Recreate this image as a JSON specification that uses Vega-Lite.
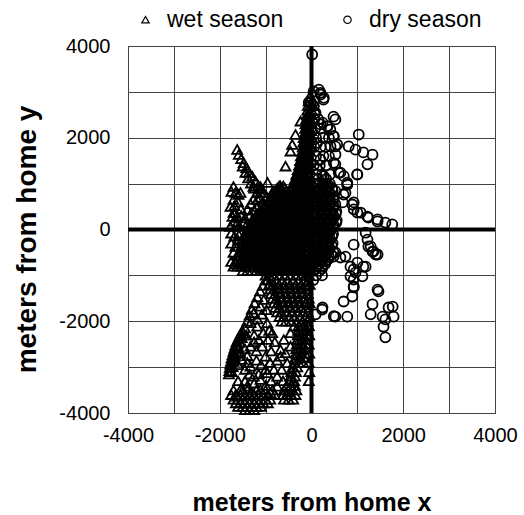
{
"$schema": "https://vega.github.io/schema/vega-lite/v6.json",
"width": 367, "height": 367,
"autosize": {"type": "none"},
"padding": {"left": 128, "top": 46, "right": 29, "bottom": 102},
"background": "#ffffff",
"config": {"view": {"stroke": "#000", "strokeWidth": 1}, "font": "Liberation Sans"},
"data": {"format": {"type": "csv"}, "values": "x,y,s\n-1620,1744,w\n-1585,1635,w\n-1533,1541,w\n-1476,1454,w\n-1417,1345,w\n-1367,1236,w\n-1293,1162,w\n-1221,1053,w\n-1160,960,w\n-1100,880,w\n-1040,800,w\n-980,720,w\n-920,650,w\n-1500,1380,w\n-1440,1240,w\n-1380,1120,w\n-1320,1010,w\n-1250,900,w\n-1190,800,w\n-1120,700,w\n-1060,610,w\n-990,520,w\n-240,2361,w\n-349,2071,w\n-421,1853,w\n-458,1707,w\n-567,1380,w\n-131,1635,w\n-1744,828,w\n-1657,807,w\n-1591,763,w\n-1700,654,w\n-1766,501,w\n-1657,371,w\n-1722,283,w\n-1766,65,w\n-1591,65,w\n-1482,153,w\n-1700,937,w\n-1548,807,w\n-1700,371,w\n-1613,153,w\n-1680,520,w\n-1600,600,w\n-1540,450,w\n-1620,260,w\n-1700,180,w\n-1530,300,w\n-1750,-80,w\n-1680,-150,w\n-1600,-230,w\n-1750,-300,w\n-1660,-370,w\n-1580,-120,w\n-1520,-350,w\n-1700,-500,w\n-1620,-560,w\n-1264,937,w\n-1112,807,w\n-1264,654,w\n-1177,501,w\n-1395,436,w\n-1112,937,w\n-1177,654,w\n-1046,501,w\n-959,1025,w\n-1330,560,w\n-1250,420,w\n-1350,300,w\n-1300,200,w\n-1400,120,w\n-1220,300,w\n-1150,380,w\n-1080,260,w\n-1200,150,w\n-1450,250,w\n-1380,-50,w\n-1300,60,w\n-40,2900,w\n-60,2800,w\n40,2800,w\n-80,2700,w\n20,2700,w\n-90,2600,w\n0,2600,w\n90,2600,w\n-100,2500,w\n-10,2500,w\n-120,2400,w\n-30,2400,w\n60,2400,w\n-130,2300,w\n-40,2300,w\n-140,2200,w\n-50,2200,w\n40,2200,w\n-150,2100,w\n-60,2100,w\n-170,2000,w\n-80,2000,w\n10,2000,w\n-180,1900,w\n-90,1900,w\n-190,1800,w\n-100,1800,w\n-10,1800,w\n-210,1700,w\n-120,1700,w\n-30,1700,w\n-230,1600,w\n-140,1600,w\n-50,1600,w\n-250,1500,w\n-160,1500,w\n-70,1500,w\n-270,1400,w\n-180,1400,w\n-90,1400,w\n-300,1300,w\n-210,1300,w\n-120,1300,w\n-30,1300,w\n-330,1200,w\n-240,1200,w\n-150,1200,w\n-60,1200,w\n-360,1100,w\n-270,1100,w\n-180,1100,w\n-90,1100,w\n-400,1000,w\n-310,1000,w\n-220,1000,w\n-130,1000,w\n-40,1000,w\n-680,950,w\n-720,880,w\n-640,880,w\n-300,1020,w\n-750,900,w\n-660,900,w\n-580,900,w\n-440,900,w\n-350,900,w\n-260,900,w\n-170,900,w\n-80,900,w\n-860,800,w\n-770,800,w\n-680,800,w\n-590,800,w\n-500,800,w\n-410,800,w\n-320,800,w\n-230,800,w\n-140,800,w\n-50,800,w\n-900,700,w\n-810,700,w\n-720,700,w\n-630,700,w\n-540,700,w\n-450,700,w\n-360,700,w\n-270,700,w\n-180,700,w\n-90,700,w\n-950,600,w\n-860,600,w\n-770,600,w\n-680,600,w\n-590,600,w\n-500,600,w\n-410,600,w\n-320,600,w\n-230,600,w\n-140,600,w\n-50,600,w\n-1000,500,w\n-910,500,w\n-820,500,w\n-730,500,w\n-640,500,w\n-550,500,w\n-460,500,w\n-370,500,w\n-280,500,w\n-190,500,w\n-100,500,w\n-1080,400,w\n-990,400,w\n-900,400,w\n-810,400,w\n-720,400,w\n-630,400,w\n-540,400,w\n-450,400,w\n-360,400,w\n-270,400,w\n-180,400,w\n-90,400,w\n-1120,300,w\n-1030,300,w\n-940,300,w\n-850,300,w\n-760,300,w\n-670,300,w\n-580,300,w\n-490,300,w\n-400,300,w\n-310,300,w\n-220,300,w\n-130,300,w\n-40,300,w\n-1250,200,w\n-1160,200,w\n-1070,200,w\n-980,200,w\n-890,200,w\n-800,200,w\n-710,200,w\n-620,200,w\n-530,200,w\n-440,200,w\n-350,200,w\n-260,200,w\n-170,200,w\n-80,200,w\n-1300,100,w\n-1210,100,w\n-1120,100,w\n-1030,100,w\n-940,100,w\n-850,100,w\n-760,100,w\n-670,100,w\n-580,100,w\n-490,100,w\n-400,100,w\n-310,100,w\n-220,100,w\n-130,100,w\n-40,100,w\n-1400,0,w\n-1310,0,w\n-1220,0,w\n-1130,0,w\n-1040,0,w\n-950,0,w\n-860,0,w\n-770,0,w\n-680,0,w\n-590,0,w\n-500,0,w\n-410,0,w\n-320,0,w\n-230,0,w\n-140,0,w\n-50,0,w\n-1450,-100,w\n-1360,-100,w\n-1270,-100,w\n-1180,-100,w\n-1090,-100,w\n-1000,-100,w\n-910,-100,w\n-820,-100,w\n-730,-100,w\n-640,-100,w\n-550,-100,w\n-460,-100,w\n-370,-100,w\n-280,-100,w\n-190,-100,w\n-100,-100,w\n-1500,-200,w\n-1410,-200,w\n-1320,-200,w\n-1230,-200,w\n-1140,-200,w\n-1050,-200,w\n-960,-200,w\n-870,-200,w\n-780,-200,w\n-690,-200,w\n-600,-200,w\n-510,-200,w\n-420,-200,w\n-330,-200,w\n-240,-200,w\n-150,-200,w\n-60,-200,w\n-1480,-300,w\n-1390,-300,w\n-1300,-300,w\n-1210,-300,w\n-1120,-300,w\n-1030,-300,w\n-940,-300,w\n-850,-300,w\n-760,-300,w\n-670,-300,w\n-580,-300,w\n-490,-300,w\n-400,-300,w\n-310,-300,w\n-220,-300,w\n-130,-300,w\n-1450,-400,w\n-1360,-400,w\n-1270,-400,w\n-1180,-400,w\n-1090,-400,w\n-1000,-400,w\n-910,-400,w\n-820,-400,w\n-730,-400,w\n-640,-400,w\n-550,-400,w\n-460,-400,w\n-370,-400,w\n-280,-400,w\n-190,-400,w\n-100,-400,w\n-1560,-500,w\n-1470,-500,w\n-1380,-500,w\n-1290,-500,w\n-1200,-500,w\n-1110,-500,w\n-1020,-500,w\n-930,-500,w\n-840,-500,w\n-750,-500,w\n-660,-500,w\n-570,-500,w\n-480,-500,w\n-390,-500,w\n-300,-500,w\n-210,-500,w\n-120,-500,w\n-1500,-600,w\n-1410,-600,w\n-1320,-600,w\n-1230,-600,w\n-1140,-600,w\n-1050,-600,w\n-960,-600,w\n-870,-600,w\n-780,-600,w\n-690,-600,w\n-600,-600,w\n-510,-600,w\n-420,-600,w\n-330,-600,w\n-240,-600,w\n-150,-600,w\n-60,-600,w\n-1750,-700,w\n-1660,-700,w\n-1570,-700,w\n-1480,-700,w\n-1390,-700,w\n-1300,-700,w\n-1210,-700,w\n-1120,-700,w\n-1030,-700,w\n-940,-700,w\n-850,-700,w\n-760,-700,w\n-670,-700,w\n-580,-700,w\n-490,-700,w\n-400,-700,w\n-310,-700,w\n-220,-700,w\n-130,-700,w\n-1700,-800,w\n-1610,-800,w\n-1520,-800,w\n-1430,-800,w\n-1340,-800,w\n-1250,-800,w\n-1160,-800,w\n-1100,-800,w\n-1010,-800,w\n-920,-800,w\n-830,-800,w\n-740,-800,w\n-650,-800,w\n-560,-800,w\n-470,-800,w\n-380,-800,w\n-290,-800,w\n-200,-800,w\n-110,-800,w\n-20,-800,w\n-1500,-900,w\n-1400,-900,w\n-1300,-900,w\n-1200,-900,w\n-1110,-900,w\n-1040,-900,w\n-950,-900,w\n-860,-900,w\n-770,-900,w\n-680,-900,w\n-590,-900,w\n-500,-900,w\n-410,-900,w\n-320,-900,w\n-230,-900,w\n-140,-900,w\n-50,-900,w\n-705,950,w\n-615,950,w\n-395,950,w\n-305,950,w\n-215,950,w\n-125,950,w\n-35,950,w\n-815,850,w\n-725,850,w\n-635,850,w\n-545,850,w\n-455,850,w\n-365,850,w\n-275,850,w\n-185,850,w\n-95,850,w\n-855,750,w\n-765,750,w\n-675,750,w\n-585,750,w\n-495,750,w\n-405,750,w\n-315,750,w\n-225,750,w\n-135,750,w\n-45,750,w\n-905,650,w\n-815,650,w\n-725,650,w\n-635,650,w\n-545,650,w\n-455,650,w\n-365,650,w\n-275,650,w\n-185,650,w\n-95,650,w\n-955,550,w\n-865,550,w\n-775,550,w\n-685,550,w\n-595,550,w\n-505,550,w\n-415,550,w\n-325,550,w\n-235,550,w\n-145,550,w\n-55,550,w\n-1035,450,w\n-945,450,w\n-855,450,w\n-765,450,w\n-675,450,w\n-585,450,w\n-495,450,w\n-405,450,w\n-315,450,w\n-225,450,w\n-135,450,w\n-45,450,w\n-1075,350,w\n-985,350,w\n-895,350,w\n-805,350,w\n-715,350,w\n-625,350,w\n-535,350,w\n-445,350,w\n-355,350,w\n-265,350,w\n-175,350,w\n-85,350,w\n-1205,250,w\n-1115,250,w\n-1025,250,w\n-935,250,w\n-845,250,w\n-755,250,w\n-665,250,w\n-575,250,w\n-485,250,w\n-395,250,w\n-305,250,w\n-215,250,w\n-125,250,w\n-35,250,w\n-1255,150,w\n-1165,150,w\n-1075,150,w\n-985,150,w\n-895,150,w\n-805,150,w\n-715,150,w\n-625,150,w\n-535,150,w\n-445,150,w\n-355,150,w\n-265,150,w\n-175,150,w\n-85,150,w\n-1355,50,w\n-1265,50,w\n-1175,50,w\n-1085,50,w\n-995,50,w\n-905,50,w\n-815,50,w\n-725,50,w\n-635,50,w\n-545,50,w\n-455,50,w\n-365,50,w\n-275,50,w\n-185,50,w\n-95,50,w\n-1405,-50,w\n-1315,-50,w\n-1225,-50,w\n-1135,-50,w\n-1045,-50,w\n-955,-50,w\n-865,-50,w\n-775,-50,w\n-685,-50,w\n-595,-50,w\n-505,-50,w\n-415,-50,w\n-325,-50,w\n-235,-50,w\n-145,-50,w\n-55,-50,w\n-1455,-150,w\n-1365,-150,w\n-1275,-150,w\n-1185,-150,w\n-1095,-150,w\n-1005,-150,w\n-915,-150,w\n-825,-150,w\n-735,-150,w\n-645,-150,w\n-555,-150,w\n-465,-150,w\n-375,-150,w\n-285,-150,w\n-195,-150,w\n-105,-150,w\n-1435,-250,w\n-1345,-250,w\n-1255,-250,w\n-1165,-250,w\n-1075,-250,w\n-985,-250,w\n-895,-250,w\n-805,-250,w\n-715,-250,w\n-625,-250,w\n-535,-250,w\n-445,-250,w\n-355,-250,w\n-265,-250,w\n-175,-250,w\n-85,-250,w\n-1405,-350,w\n-1315,-350,w\n-1225,-350,w\n-1135,-350,w\n-1045,-350,w\n-955,-350,w\n-865,-350,w\n-775,-350,w\n-685,-350,w\n-595,-350,w\n-505,-350,w\n-415,-350,w\n-325,-350,w\n-235,-350,w\n-145,-350,w\n-1515,-450,w\n-1425,-450,w\n-1335,-450,w\n-1245,-450,w\n-1155,-450,w\n-1065,-450,w\n-975,-450,w\n-885,-450,w\n-795,-450,w\n-705,-450,w\n-615,-450,w\n-525,-450,w\n-435,-450,w\n-345,-450,w\n-255,-450,w\n-165,-450,w\n-75,-450,w\n-1455,-550,w\n-1365,-550,w\n-1275,-550,w\n-1185,-550,w\n-1095,-550,w\n-1005,-550,w\n-915,-550,w\n-825,-550,w\n-735,-550,w\n-645,-550,w\n-555,-550,w\n-465,-550,w\n-375,-550,w\n-285,-550,w\n-195,-550,w\n-105,-550,w\n-1615,-650,w\n-1525,-650,w\n-1435,-650,w\n-1345,-650,w\n-1255,-650,w\n-1165,-650,w\n-1075,-650,w\n-985,-650,w\n-895,-650,w\n-805,-650,w\n-715,-650,w\n-625,-650,w\n-535,-650,w\n-445,-650,w\n-355,-650,w\n-265,-650,w\n-175,-650,w\n-85,-650,w\n-1655,-750,w\n-1565,-750,w\n-1475,-750,w\n-1385,-750,w\n-1295,-750,w\n-1205,-750,w\n-1115,-750,w\n-1055,-750,w\n-965,-750,w\n-875,-750,w\n-785,-750,w\n-695,-750,w\n-605,-750,w\n-515,-750,w\n-425,-750,w\n-335,-750,w\n-245,-750,w\n-155,-750,w\n-65,-750,w\n-1055,-850,w\n-965,-850,w\n-875,-850,w\n-785,-850,w\n-695,-850,w\n-605,-850,w\n-515,-850,w\n-425,-850,w\n-335,-850,w\n-245,-850,w\n-155,-850,w\n-65,-850,w\n-355,1050,w\n-265,1050,w\n-175,1050,w\n-85,1050,w\n-315,1150,w\n-225,1150,w\n-135,1150,w\n-45,1150,w\n-285,1250,w\n-195,1250,w\n-105,1250,w\n-255,1350,w\n-165,1350,w\n-75,1350,w\n-215,1450,w\n-125,1450,w\n-35,1450,w\n-195,1550,w\n-105,1550,w\n-175,1650,w\n-85,1650,w\n-155,1750,w\n-65,1750,w\n-135,1850,w\n-45,1850,w\n-125,1950,w\n-35,1950,w\n-105,2050,w\n-15,2050,w\n-95,2150,w\n-5,2150,w\n-85,2250,w\n-75,2350,w\n-55,2450,w\n-45,2550,w\n-1000,-1000,w\n-910,-1000,w\n-820,-1000,w\n-700,-1000,w\n-580,-1000,w\n-460,-1000,w\n-340,-1000,w\n-220,-1000,w\n-130,-1000,w\n-50,-1000,w\n-960,-1100,w\n-870,-1100,w\n-760,-1100,w\n-640,-1100,w\n-520,-1100,w\n-400,-1100,w\n-280,-1100,w\n-160,-1100,w\n-70,-1100,w\n-920,-1200,w\n-830,-1200,w\n-710,-1200,w\n-590,-1200,w\n-470,-1200,w\n-350,-1200,w\n-230,-1200,w\n-120,-1200,w\n-40,-1200,w\n-900,-1300,w\n-810,-1300,w\n-690,-1300,w\n-570,-1300,w\n-450,-1300,w\n-330,-1300,w\n-210,-1300,w\n-100,-1300,w\n-880,-1400,w\n-790,-1400,w\n-670,-1400,w\n-550,-1400,w\n-430,-1400,w\n-310,-1400,w\n-190,-1400,w\n-80,-1400,w\n-850,-1500,w\n-760,-1500,w\n-640,-1500,w\n-520,-1500,w\n-400,-1500,w\n-280,-1500,w\n-160,-1500,w\n-60,-1500,w\n-820,-1600,w\n-730,-1600,w\n-610,-1600,w\n-490,-1600,w\n-370,-1600,w\n-250,-1600,w\n-130,-1600,w\n-40,-1600,w\n-790,-1700,w\n-700,-1700,w\n-580,-1700,w\n-460,-1700,w\n-340,-1700,w\n-220,-1700,w\n-110,-1700,w\n-750,-1800,w\n-660,-1800,w\n-540,-1800,w\n-420,-1800,w\n-300,-1800,w\n-180,-1800,w\n-80,-1800,w\n-700,-1900,w\n-610,-1900,w\n-490,-1900,w\n-370,-1900,w\n-250,-1900,w\n-130,-1900,w\n-40,-1900,w\n-650,-2000,w\n-560,-2000,w\n-440,-2000,w\n-320,-2000,w\n-200,-2000,w\n-90,-2000,w\n-280,-2100,w\n-180,-2100,w\n-80,-2100,w\n-290,-2200,w\n-190,-2200,w\n-90,-2200,w\n-300,-2300,w\n-200,-2300,w\n-100,-2300,w\n-310,-2400,w\n-210,-2400,w\n-110,-2400,w\n-320,-2500,w\n-220,-2500,w\n-120,-2500,w\n-330,-2600,w\n-230,-2600,w\n-130,-2600,w\n-340,-2700,w\n-240,-2700,w\n-140,-2700,w\n-360,-2800,w\n-260,-2800,w\n-160,-2800,w\n-380,-2900,w\n-280,-2900,w\n-180,-2900,w\n-410,-3000,w\n-310,-3000,w\n-440,-3100,w\n-340,-3100,w\n-460,-3200,w\n-360,-3200,w\n-480,-3300,w\n-380,-3300,w\n-540,-3400,w\n-450,-3400,w\n-360,-3400,w\n-600,-3500,w\n-510,-3500,w\n-420,-3500,w\n-330,-3500,w\n-620,-3600,w\n-530,-3600,w\n-440,-3600,w\n-350,-3600,w\n-600,-3700,w\n-500,-3700,w\n-400,-3700,w\n-60,-2100,w\n-50,-2300,w\n-60,-2500,w\n-50,-2700,w\n-60,-2900,w\n-50,-3100,w\n-60,-3300,w\n-1800,-3150,w\n-1790,-3080,w\n-1780,-3010,w\n-1770,-2940,w\n-1755,-2870,w\n-1740,-2800,w\n-1720,-2730,w\n-1700,-2660,w\n-1680,-2590,w\n-1655,-2520,w\n-1630,-2450,w\n-1600,-2390,w\n-1570,-2330,w\n-1540,-2270,w\n-1510,-2210,w\n-1740,-3100,w\n-1720,-2990,w\n-1700,-2880,w\n-1670,-2770,w\n-1640,-2660,w\n-1600,-2560,w\n-1560,-2460,w\n-1520,-2360,w\n-1480,-2260,w\n-1450,-2150,w\n-1400,-2000,w\n-1350,-1870,w\n-1300,-1740,w\n-1240,-1600,w\n-1180,-1470,w\n-1120,-1340,w\n-1060,-1220,w\n-1000,-1100,w\n-1258,-1816,w\n-1112,-1672,w\n-1040,-1526,w\n-1330,-2034,w\n-1184,-2108,w\n-966,-2034,w\n-857,-2252,w\n-1330,-2544,w\n-1075,-2544,w\n-1003,-2762,w\n-1511,-2834,w\n-1330,-2980,w\n-1258,-3198,w\n-1402,-3416,w\n-1112,-3270,w\n-966,-3124,w\n-748,-3198,w\n-676,-2762,w\n-676,-2616,w\n-567,-2688,w\n-458,-2544,w\n-604,-2398,w\n-458,-2252,w\n-386,-2108,w\n-1548,-3488,w\n-1620,-3634,w\n-1112,-3488,w\n-894,-3560,w\n-748,-3416,w\n-530,-2906,w\n-1420,-2300,w\n-1250,-2300,w\n-1150,-2400,w\n-950,-2400,w\n-800,-2450,w\n-1450,-2600,w\n-1200,-2650,w\n-880,-2650,w\n-750,-2850,w\n-1400,-2750,w\n-1200,-2850,w\n-900,-2900,w\n-1100,-2950,w\n-1450,-3050,w\n-1000,-3050,w\n-820,-3050,w\n-1350,-3150,w\n-1150,-3150,w\n-880,-3300,w\n-1250,-3350,w\n-1000,-3400,w\n-1450,-3300,w\n-1300,-3550,w\n-1600,-3300,w\n-650,-3050,w\n-620,-3300,w\n-1050,-2250,w\n-1250,-2450,w\n-1550,-2700,w\n-1400,-2900,w\n-1600,-2950,w\n-920,-2200,w\n-1180,-1950,w\n-1080,-1850,w\n-980,-1750,w\n-1700,-3500,w\n-1500,-3500,w\n-1400,-3500,w\n-1200,-3500,w\n-1000,-3500,w\n-850,-3500,w\n-1750,-3600,w\n-1650,-3600,w\n-1550,-3600,w\n-1450,-3600,w\n-1350,-3600,w\n-1250,-3600,w\n-1150,-3600,w\n-1050,-3600,w\n-950,-3600,w\n-800,-3600,w\n-1700,-3700,w\n-1600,-3700,w\n-1500,-3700,w\n-1400,-3700,w\n-1300,-3700,w\n-1200,-3700,w\n-1100,-3700,w\n-1000,-3700,w\n-900,-3700,w\n-1650,-3780,w\n-1550,-3780,w\n-1450,-3780,w\n-1350,-3780,w\n-1250,-3780,w\n-1150,-3780,w\n-1050,-3780,w\n-950,-3780,w\n-1600,-3860,w\n-1500,-3860,w\n-1400,-3860,w\n-1300,-3860,w\n-1200,-3860,w\n-1100,-3860,w\n-1450,-3930,w\n-1350,-3930,w\n-1250,-3930,w\n15,3815,d\n45,3010,d\n160,3050,d\n200,2940,d\n260,2830,d\n-60,2770,d\n480,2460,d\n520,2400,d\n240,2330,d\n350,2250,d\n410,2180,d\n480,2030,d\n1030,2070,d\n520,1810,d\n810,1810,d\n960,1740,d\n1130,1680,d\n1330,1630,d\n1220,1420,d\n1000,1200,d\n520,1420,d\n630,1240,d\n780,980,d\n700,760,d\n680,590,d\n890,545,d\n1070,370,d\n1240,260,d\n1440,175,d\n1610,150,d\n1760,110,d\n920,440,d\n1180,-70,d\n1220,-220,d\n1240,-370,d\n1330,-480,d\n1400,-545,d\n1290,-370,d\n1350,-480,d\n1440,-545,d\n520,-500,d\n630,-610,d\n920,-330,d\n850,-810,d\n920,-870,d\n960,-940,d\n1180,-810,d\n1110,-1020,d\n920,-1090,d\n920,-1260,d\n890,-1460,d\n700,-1570,d\n520,-1900,d\n780,-1900,d\n240,-1700,d\n90,-1850,d\n1290,-1850,d\n1330,-1630,d\n1460,-1350,d\n1550,-1900,d\n1610,-1960,d\n1680,-1700,d\n1770,-1680,d\n1790,-1900,d\n1570,-2120,d\n1610,-2350,d\n780,1020,d\n920,590,d\n1000,370,d\n1220,280,d\n1440,220,d\n480,-590,d\n740,-590,d\n850,-1020,d\n920,-1240,d\n1000,-720,d\n1130,-810,d\n1440,-1310,d\n196,2290,d\n342,2252,d\n486,2034,d\n414,1816,d\n560,1853,d\n523,1635,d\n486,1454,d\n595,1236,d\n704,1162,d\n778,981,d\n523,835,d\n741,800,d\n996,1199,d\n196,1526,d\n124,1308,d\n268,1162,d\n342,944,d\n124,1890,d\n87,2544,d\n50,2688,d\n-22,2762,d\n196,2980,d\n268,2871,d\n196,-436,d\n480,-501,d\n233,-1744,d\n486,-1890,d\n60,2400,d\n150,2400,d\n80,2200,d\n200,2200,d\n100,2000,d\n250,2000,d\n380,2000,d\n60,1800,d\n200,1800,d\n300,1800,d\n100,1600,d\n260,1600,d\n380,1600,d\n50,1400,d\n180,1400,d\n320,1400,d\n100,1200,d\n230,1200,d\n400,1200,d\n150,1100,d\n320,1100,d\n100,1000,d\n250,1000,d\n400,1000,d\n50,900,d\n180,900,d\n320,900,d\n450,900,d\n120,800,d\n260,800,d\n400,800,d\n60,700,d\n200,700,d\n340,700,d\n480,700,d\n130,600,d\n270,600,d\n410,600,d\n50,500,d\n190,500,d\n330,500,d\n470,500,d\n120,400,d\n260,400,d\n400,400,d\n540,400,d\n60,300,d\n200,300,d\n340,300,d\n480,300,d\n130,200,d\n270,200,d\n410,200,d\n550,200,d\n60,100,d\n200,100,d\n340,100,d\n480,100,d\n130,0,d\n270,0,d\n410,0,d\n60,-100,d\n200,-100,d\n340,-100,d\n470,-100,d\n130,-200,d\n270,-200,d\n400,-200,d\n60,-300,d\n200,-300,d\n330,-300,d\n460,-300,d\n130,-400,d\n260,-400,d\n390,-400,d\n60,-500,d\n190,-500,d\n320,-500,d\n120,-600,d\n250,-600,d\n380,-600,d\n50,-700,d\n180,-700,d\n310,-700,d\n110,-800,d\n240,-800,d\n40,-900,d\n170,-900,d\n100,-1000,d\n230,-1000,d\n40,-1100,d\n115,950,d\n250,950,d\n385,950,d\n50,850,d\n190,850,d\n330,850,d\n460,850,d\n130,750,d\n270,750,d\n410,750,d\n60,650,d\n200,650,d\n340,650,d\n470,650,d\n120,550,d\n260,550,d\n400,550,d\n520,550,d\n50,450,d\n190,450,d\n330,450,d\n470,450,d\n130,350,d\n270,350,d\n410,350,d\n530,350,d\n60,250,d\n200,250,d\n340,250,d\n480,250,d\n130,150,d\n270,150,d\n410,150,d\n540,150,d\n60,50,d\n200,50,d\n340,50,d\n470,50,d\n130,-50,d\n270,-50,d\n400,-50,d\n60,-150,d\n200,-150,d\n330,-150,d\n450,-150,d\n130,-250,d\n260,-250,d\n390,-250,d\n60,-350,d\n190,-350,d\n320,-350,d\n440,-350,d\n120,-450,d\n250,-450,d\n380,-450,d\n50,-550,d\n180,-550,d\n310,-550,d\n430,-550,d\n110,-650,d\n240,-650,d\n360,-650,d\n40,-750,d\n170,-750,d\n300,-750,d\n100,-850,d\n230,-850,d"},
"layer": [
 {"mark": {"type": "point", "filled": false, "size": 100, "strokeWidth": 1.8, "color": "#000", "opacity": 1},
  "encoding": {
   "x": {"field": "x", "type": "quantitative", "title": "meters from home x",
     "scale": {"domain": [-4000, 4000], "nice": false, "zero": false},
     "axis": {"values": [-4000, -3000, -2000, -1000, 0, 1000, 2000, 3000, 4000],
       "labelExpr": "datum.value % 2000 === 0 ? '' + datum.value : ''",
       "labelOverlap": false, "labelFlush": false, "grid": true, "gridColor": "#444", "gridWidth": 1,
       "ticks": false, "domain": false, "labelFontSize": 20, "labelColor": "#000", "labelPadding": 12,
       "titleFontSize": 25, "titleFontWeight": "bold", "titleColor": "#000", "titlePadding": 45}},
   "y": {"field": "y", "type": "quantitative", "title": "meters from home y",
     "scale": {"domain": [-4000, 4000], "nice": false, "zero": false},
     "axis": {"values": [-4000, -3000, -2000, -1000, 0, 1000, 2000, 3000, 4000],
       "labelExpr": "datum.value % 2000 === 0 ? '' + datum.value : ''",
       "labelOverlap": false, "labelFlush": false, "grid": true, "gridColor": "#444", "gridWidth": 1,
       "ticks": false, "domain": false, "labelFontSize": 20, "labelColor": "#000", "labelPadding": 18,
       "titleFontSize": 28, "titleFontWeight": "bold", "titleColor": "#000", "titlePadding": 17, "titleY": 193}},
   "shape": {"field": "s", "type": "nominal",
     "scale": {"domain": ["w", "d"], "range": ["triangle-up", "circle"]},
     "legend": {"orient": "none", "legendX": 6, "legendY": -38, "direction": "horizontal", "title": null,
       "labelExpr": "datum.value == 'w' ? 'wet season' : 'dry season'",
       "labelFontSize": 23, "labelColor": "#000", "symbolSize": 55, "symbolStrokeWidth": 1.2,
       "symbolStrokeColor": "#000", "symbolFillColor": "transparent", "columnPadding": 52, "labelOffset": 10, "padding": 0}}
  }},
 {"data": {"values": [{}]}, "mark": {"type": "rule", "color": "#000", "strokeWidth": 4}, "encoding": {"x": {"datum": 0}}},
 {"data": {"values": [{}]}, "mark": {"type": "rule", "color": "#000", "strokeWidth": 4}, "encoding": {"y": {"datum": 0}}}
]
}
